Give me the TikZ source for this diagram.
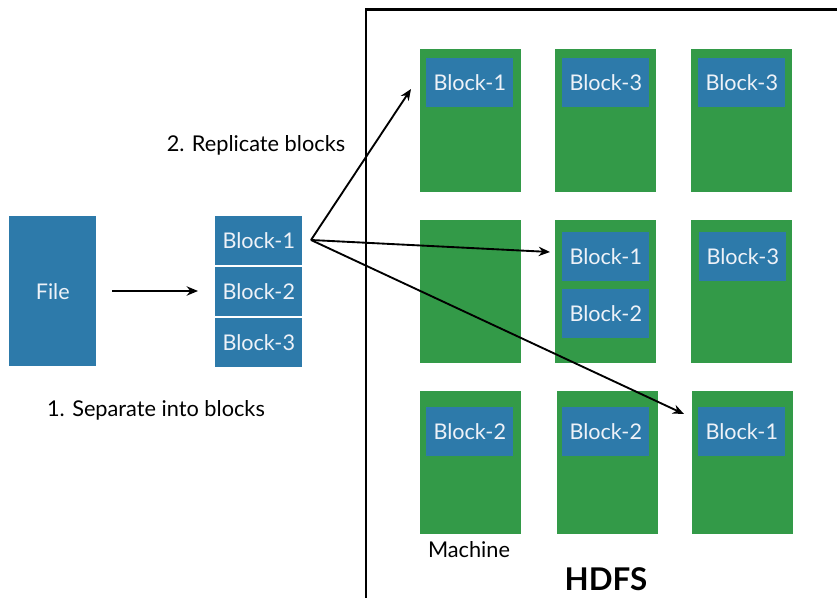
\documentclass[tikz,border=0pt]{standalone}
\usepackage{fontspec}
\setmainfont{Lato}
\usetikzlibrary{arrows.meta}
\definecolor{blk}{RGB}{45,122,170}
\definecolor{mach}{RGB}{51,154,72}
\definecolor{blktext}{RGB}{238,242,248}
\tikzset{
  machine/.style={fill=mach, draw=none, anchor=north west, inner sep=0pt, minimum width=75.75pt, minimum height=107.25pt},
  blockbox/.style={fill=blk, draw=none, anchor=north west, inner sep=0pt, minimum width=65.25pt, minimum height=36.75pt, text=blktext, font=\fontsize{16.2}{18}\selectfont},
  filebox/.style={fill=blk, draw=none, anchor=north west, inner sep=0pt, minimum width=65.25pt, minimum height=112.5pt, text=blktext, font=\fontsize{16.2}{18}\selectfont},
  conn/.style={line width=1.4pt, -{Stealth[length=8.5pt,width=7pt]}},
  lbl/.style={font=\fontsize{16.3}{18}\selectfont, inner sep=0pt},
}
\begin{document}
\begin{tikzpicture}[x=0.75pt,y=-0.75pt]
\useasboundingbox (0,0) rectangle (837,598);
% left side
\node[filebox] (file) at (9,216) {File};
\node[blockbox] (s1) at (215,216) {Block-1};
\node[blockbox] (s2) at (215,267) {Block-2};
\node[blockbox] (s3) at (215,318) {Block-3};
\coordinate (fa) at (112,291);
\coordinate (fb) at (198,291);
\draw[conn] (fa) -- (fb);
\node[lbl] (sep) at (156,410) {1. Separate into blocks};
\node[lbl] (rep) at (256,145) {2. Replicate blocks};
% HDFS frame
\draw[line width=1.6pt] (366,600) -- (366,9.5) -- (840,9.5);
% machines
\node[machine] (m11) at (420,49) {};
\node[machine] (m12) at (555,49) {};
\node[machine] (m13) at (691,49) {};
\node[machine] (m21) at (420,220) {};
\node[machine] (m22) at (555,220) {};
\node[machine] (m23) at (691,220) {};
\node[machine] (m31) at (420,391) {};
\node[machine] (m32) at (557,391) {};
\node[machine] (m33) at (692,391) {};
% blocks in machines
\node[blockbox] (b11) at (426,58) {Block-1};
\node[blockbox] (b12) at (562,58) {Block-3};
\node[blockbox] (b13) at (698,58) {Block-3};
\node[blockbox] (b22a) at (562,232) {Block-1};
\node[blockbox] (b22b) at (562,289) {Block-2};
\node[blockbox] (b23) at (699,232) {Block-3};
\node[blockbox] (b31) at (426,407) {Block-2};
\node[blockbox] (b32) at (562,407) {Block-2};
\node[blockbox] (b33) at (698,407) {Block-1};
% labels
\node[lbl] (machlbl) at (469,550) {Machine};
\node[font=\fontsize{23.5}{26}\selectfont\bfseries, inner sep=0pt] (hdfs) at (606,579) {HDFS};
% replication arrows
\coordinate (src) at (311,240);
\coordinate (t1) at (411,89);
\coordinate (t2) at (550,252);
\coordinate (t3) at (684,414);
\draw[conn] (src) -- (t1);
\draw[conn] (src) -- (t2);
\draw[conn] (src) -- (t3);
\end{tikzpicture}
\end{document}
